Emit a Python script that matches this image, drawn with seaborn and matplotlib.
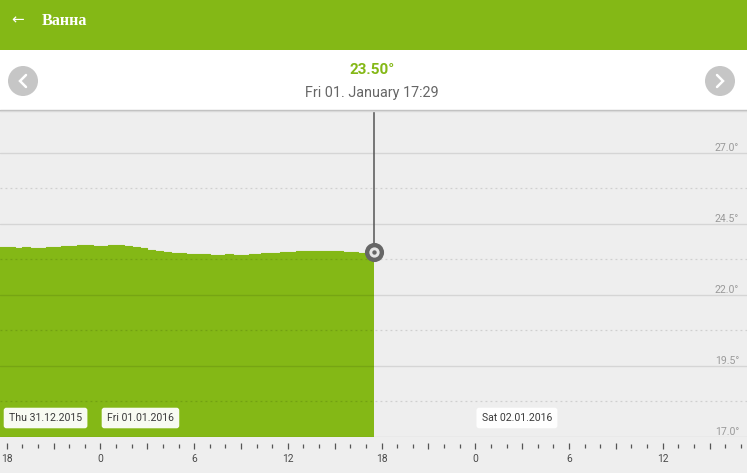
import matplotlib
matplotlib.use("Agg")
import matplotlib.pyplot as plt
import matplotlib.dates as mdates
from matplotlib.patches import Rectangle, Circle
from matplotlib.ticker import FixedLocator, FuncFormatter
import seaborn as sns
import pandas as pd

# chart values
room_name = "Ванна"
current_value = "23.50°"
current_label = "Fri 01. January 17:29"

reading_times = [
    "2015-12-31 17:30", "2015-12-31 18:00", "2015-12-31 18:30", "2015-12-31 19:00",
    "2015-12-31 19:30", "2015-12-31 20:00", "2015-12-31 20:30", "2015-12-31 21:00",
    "2015-12-31 21:30", "2015-12-31 22:00", "2015-12-31 22:30", "2015-12-31 23:00",
    "2015-12-31 23:30", "2016-01-01 00:00", "2016-01-01 00:30", "2016-01-01 01:00",
    "2016-01-01 01:30", "2016-01-01 02:00", "2016-01-01 02:30", "2016-01-01 03:00",
    "2016-01-01 03:30", "2016-01-01 04:00", "2016-01-01 04:30", "2016-01-01 05:00",
    "2016-01-01 05:30", "2016-01-01 06:00", "2016-01-01 06:30", "2016-01-01 07:00",
    "2016-01-01 07:30", "2016-01-01 08:00", "2016-01-01 08:30", "2016-01-01 09:00",
    "2016-01-01 09:30", "2016-01-01 10:00", "2016-01-01 10:14", "2016-01-01 10:16",
    "2016-01-01 10:30", "2016-01-01 11:00", "2016-01-01 11:30", "2016-01-01 12:00",
    "2016-01-01 12:30", "2016-01-01 13:00", "2016-01-01 13:30", "2016-01-01 14:00",
    "2016-01-01 14:30", "2016-01-01 15:00", "2016-01-01 15:30", "2016-01-01 16:00",
    "2016-01-01 16:30", "2016-01-01 17:00", "2016-01-01 17:29",
]
temperatures = [
    23.68, 23.68, 23.67, 23.68,
    23.66, 23.67, 23.68, 23.69,
    23.72, 23.73, 23.76, 23.76,
    23.73, 23.72, 23.77, 23.77,
    23.72, 23.70, 23.64, 23.58,
    23.55, 23.53, 23.49, 23.47,
    23.45, 23.44, 23.43, 23.42,
    23.42, 23.43, 23.42, 23.42,
    23.43, 23.43, 23.28, 23.47,
    23.48, 23.49, 23.50, 23.52,
    23.54, 23.55, 23.55, 23.54,
    23.55, 23.54, 23.52, 23.50,
    23.49, 23.50, 23.50,
]

y_ticks = [17.0, 19.5, 22.0, 24.5, 27.0]
y_half_ticks = [18.25, 20.75, 23.25, 25.75]
day_labels = ["Thu 31.12.2015", "Fri 01.01.2016", "Sat 02.01.2016"]
day_starts = ["2015-12-31 17:34", "2016-01-01 00:00", "2016-01-02 00:00"]
view_start = "2015-12-31 17:34"
view_end = "2016-01-02 17:24"

GREEN = "#84b816"
BG = "#eeeeee"
W, H = 747, 473

sns.set_theme(style="white")
plt.rcParams["font.family"] = ["Roboto", "DejaVu Sans"]

df = pd.DataFrame({"time": pd.to_datetime(reading_times), "temp": temperatures})

fig = plt.figure(figsize=(W / 100, H / 100), dpi=100, facecolor=BG)


def frac(y_px):
    return (H - y_px) / H


# main chart area: from y=110 to y=437 px
ax = fig.add_axes([0, frac(437), 1, frac(110) - frac(437)], zorder=1)
ax.set_facecolor(BG)
y_top = 17 + (437 - 110) / 28.4

ax.fill_between(df["time"], 17, df["temp"], step="post", color=GREEN, lw=0, zorder=1)
sns.lineplot(data=df, x="time", y="temp", ax=ax, color=GREEN, lw=0.8,
             drawstyle="steps-post", zorder=1)

ax.set_xlim(pd.Timestamp(view_start), pd.Timestamp(view_end))
ax.set_ylim(17, y_top)
ax.set_axisbelow(False)
for s in ax.spines.values():
    s.set_visible(False)

ax.yaxis.set_major_locator(FixedLocator(y_ticks))
ax.yaxis.set_minor_locator(FixedLocator(y_half_ticks))
ax.yaxis.tick_right()
ax.set_yticklabels([f"{v:.1f}°" for v in y_ticks], ha="right", va="bottom")
ax.tick_params(axis="y", which="both", length=0, pad=-5.8, labelsize=7.6,
               labelcolor="#9a9a9a")
ax.tick_params(axis="x", which="both", bottom=False, top=False,
               labelbottom=False, labeltop=False)
ax.grid(axis="y", which="major", color="black", alpha=0.1, lw=1, zorder=2)
ax.grid(axis="y", which="minor", color="black", alpha=0.13, lw=0.9,
        ls=(0, (1.5, 2.5)), zorder=2)
ax.grid(axis="x", visible=False)
ax.set_xlabel("")
ax.set_ylabel("")

# cursor line and marker at the latest reading
cur_t = df["time"].iloc[-1]
cur_v = df["temp"].iloc[-1]
ax.axvline(cur_t, ymin=(cur_v - 17) / (y_top - 17), ymax=1, color="#555555", lw=1.1, zorder=4)
ax.scatter([cur_t], [cur_v], s=190, color="#666666", zorder=5, lw=0)
ax.scatter([cur_t], [cur_v], s=55, color="#e6e6e6", zorder=6, lw=0)
ax.scatter([cur_t], [cur_v], s=10, color="#666666", zorder=7, lw=0)

# day labels
for i, (lab, start) in enumerate(zip(day_labels, day_starts)):
    ax.annotate(lab, xy=(pd.Timestamp(start), 17), xytext=(9 if i == 0 else 6.5, 19),
                textcoords="offset pixels", ha="left", va="center", fontsize=7.6,
                color="#3a3a3a", zorder=8,
                bbox=dict(boxstyle="round,pad=0.5,rounding_size=0.25",
                          fc="white", ec="none", alpha=0.95))

# hour tick strip below the chart
axt = fig.add_axes([0, frac(445.5), 1, 0.0005], sharex=ax, zorder=1)
axt.patch.set_visible(False)
for s in axt.spines.values():
    s.set_visible(False)
axt.set_yticks([])
axt.xaxis.set_major_locator(mdates.HourLocator(byhour=range(0, 24, 3)))
axt.xaxis.set_minor_locator(mdates.HourLocator())
axt.xaxis.set_major_formatter(FuncFormatter(
    lambda x, pos: str(mdates.num2date(x).hour) if mdates.num2date(x).hour % 6 == 0 else ""))
axt.tick_params(axis="x", which="major", bottom=True, direction="inout", length=5,
                width=0.9, color="#555555", labelsize=7.4, labelcolor="#4a4a4a",
                pad=3.4, labelbottom=True)
axt.tick_params(axis="x", which="minor", bottom=True, direction="inout", length=2.4,
                width=0.9, color="#555555")

# app header drawn in pixel coordinates
ui = fig.add_axes([0, 0, 1, 1], zorder=3)
ui.set_xlim(0, W)
ui.set_ylim(H, 0)
ui.axis("off")
ui.patch.set_visible(False)
ui.add_patch(Rectangle((0, 0), W, 50, color=GREEN, lw=0))
ui.add_patch(Rectangle((0, 50), W, 60, color="white", lw=0))
ui.plot([0, W], [110.5, 110.5], color="#bdbdbd", lw=1)
ui.plot([0, W], [111.5, 111.5], color="#d9d9d9", lw=1)
ui.text(18, 20, "←", color="white", fontsize=11, ha="center", va="center",
        family="DejaVu Sans")
ui.text(42, 21, room_name, color="white", fontsize=11.6, ha="left", va="center",
        family="Liberation Serif", weight="bold")
ui.text(372, 70, current_value, color=GREEN, fontsize=11, ha="center", va="center",
        weight="bold")
ui.text(372, 93, current_label, color="#666666", fontsize=10.4, ha="center", va="center")
for cx, d in [(23, 1), (720, -1)]:
    ui.add_patch(Circle((cx, 81), 15, color="#c6c6c6", lw=0))
    ui.plot([cx + 3 * d, cx - 3 * d, cx + 3 * d], [75, 81, 87], color="white", lw=1.8,
            solid_capstyle="round", solid_joinstyle="miter")

fig.savefig("out.png", dpi=100, facecolor=BG)
